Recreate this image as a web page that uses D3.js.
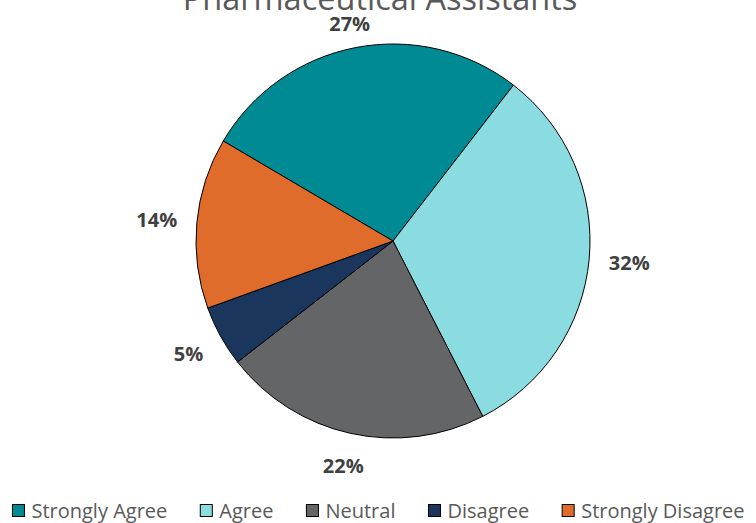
<!DOCTYPE html>
<html>
<head>
<meta charset="utf-8">
<script src="https://cdn.jsdelivr.net/npm/d3@7"></script>
<style>
  html, body { margin: 0; padding: 0; background: #ffffff; }
  svg { display: block; }
</style>
</head>
<body>
<svg id="chart" width="756" height="523"></svg>
<script>
// Survey responses (percent of respondents)
const categories = ["Strongly Agree", "Agree", "Neutral", "Disagree", "Strongly Disagree"];
const values = [27, 32, 22, 5, 14];
const colors = ["#008B94", "#8ADCE0", "#646567", "#1B365D", "#E06C2C"];
const title = "Pharmaceutical Assistants";

const W = 756, H = 523;
const cx = 393, cy = 241, R = 197;
const font = "'Open Sans', 'Liberation Sans', sans-serif";

const svg = d3.select("#chart");

// Title, partly clipped by the top edge
svg.append("text")
  .attr("x", 380).attr("y", 9.5)
  .attr("text-anchor", "middle")
  .attr("font-family", font)
  .attr("font-size", 32.5)
  .attr("fill", "#595959")
  .text(title);

const data = categories.map((c, i) => ({ cat: c, value: values[i], color: colors[i] }));

const startDeg = -59.5;
const pie = d3.pie()
  .value(d => d.value)
  .sort(null)
  .startAngle(startDeg * Math.PI / 180)
  .endAngle((startDeg + 360) * Math.PI / 180);

const arcs = pie(data);
const arc = d3.arc().innerRadius(0).outerRadius(R);

const g = svg.append("g").attr("transform", `translate(${cx},${cy})`);

g.selectAll("path.slice")
  .data(arcs)
  .join("path")
  .attr("class", "slice")
  .attr("d", arc)
  .attr("fill", d => d.data.color)
  .attr("stroke", "#000000")
  .attr("stroke-width", 1)
  .attr("stroke-linejoin", "round");

// Percentage labels outside each slice: the label box sits a fixed gap
// beyond the rim along the slice's mid angle, kept clear of the title.
const labelGap = 19;
const labels = g.selectAll("text.pct")
  .data(arcs)
  .join("text")
  .attr("class", "pct")
  .attr("text-anchor", "middle")
  .attr("dominant-baseline", "central")
  .attr("font-family", font)
  .attr("font-weight", "bold")
  .attr("font-size", 20)
  .attr("fill", "#404040")
  .text(d => d.data.value + "%");

labels.each(function(d) {
  const t = d3.select(this);
  const w = this.getComputedTextLength();
  const hh = 9.5, hw = w / 2;
  const a = (d.startAngle + d.endAngle) / 2;
  const sx = Math.sin(a), cy_ = -Math.cos(a);
  const r = R + labelGap + Math.abs(sx) * hw + Math.abs(cy_) * hh;
  let x = sx * r, y = cy_ * r;
  const minY = 23 - cy;
  if (y < minY) y = minY;
  t.attr("transform", `translate(${x},${y})`);
});

// Legend: sequential items, centred horizontally
const legend = svg.append("g");
const sq = 12, gapText = 7, gapItem = 33;
const items = legend.selectAll("g.item")
  .data(data)
  .join("g")
  .attr("class", "item");
items.append("rect")
  .attr("width", sq).attr("height", sq)
  .attr("y", -sq / 2)
  .attr("fill", d => d.color)
  .attr("stroke", "#000000")
  .attr("stroke-width", 1);
items.append("text")
  .attr("x", sq + gapText)
  .attr("dominant-baseline", "central")
  .attr("font-family", font)
  .attr("font-size", 20)
  .attr("fill", "#595959")
  .text(d => d.cat);

let xPos = 0;
items.each(function() {
  const w = sq + gapText + d3.select(this).select("text").node().getComputedTextLength();
  d3.select(this).attr("transform", `translate(${xPos},0)`);
  xPos += w + gapItem;
});
const totalW = xPos - gapItem;
legend.attr("transform", `translate(${378 - totalW / 2 + 0.5},${510.5})`);
</script>
</body>
</html>
